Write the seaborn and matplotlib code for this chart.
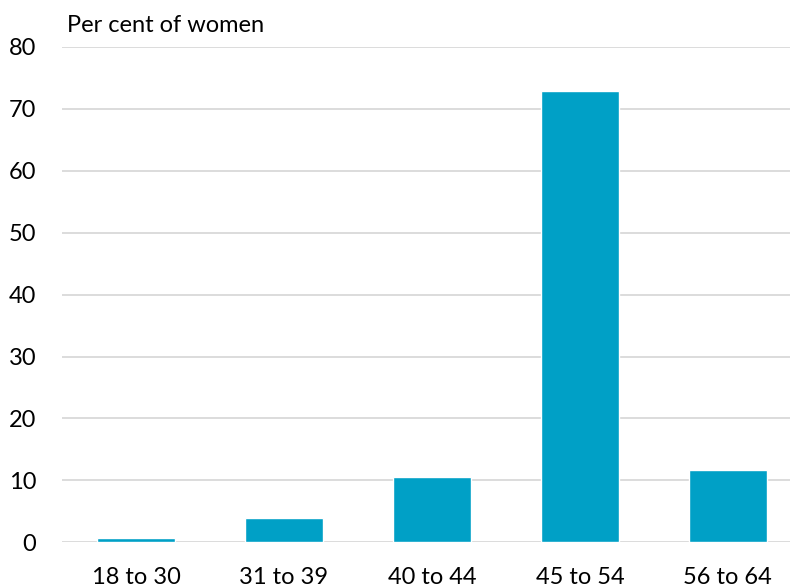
import matplotlib
matplotlib.use("Agg")
import matplotlib.pyplot as plt
import seaborn as sns
import pandas as pd

categories = ["18 to 30", "31 to 39", "40 to 44", "45 to 54", "56 to 64"]
values = [0.65, 3.9, 10.5, 72.9, 11.6]
yticks = [0, 10, 20, 30, 40, 50, 60, 70, 80]
ylabel = "Per cent of women"

sns.set_theme(style="white")
plt.rcParams['font.family'] = ['Lato', 'DejaVu Sans']

df = pd.DataFrame({"age": categories, "pct": values})

fig = plt.figure(figsize=(7.9, 5.87), dpi=100)
ax = fig.add_axes([62/790, (587-542.3)/587, 1 - 62/790, (542.3-47)/587])
sns.barplot(data=df, x="age", y="pct", color="#00A0C6", saturation=1, width=0.527, ax=ax, zorder=3)

ax.set_ylim(0, 80)
ax.set_xlim(-0.5, 4.42)
ax.set_yticks(yticks)
ax.yaxis.grid(True, color="#D9D9D9", linewidth=1.3, zorder=0)
ax.set_axisbelow(True)
for s in ax.spines.values():
    s.set_visible(False)
ax.tick_params(axis="y", labelsize=17, length=0, pad=18.5, labelcolor="#000000")
ax.tick_params(axis="x", labelsize=17, length=0, pad=18, labelcolor="#000000")
for lbl in ax.get_yticklabels():
    lbl.set_horizontalalignment("right")
ax.set_xlabel("")
ax.set_ylabel("")
fig.text(67/790, 1 - 25/587, ylabel, fontsize=17, ha="left", va="center", color="#000000")

fig.savefig("out.png", dpi=100)
